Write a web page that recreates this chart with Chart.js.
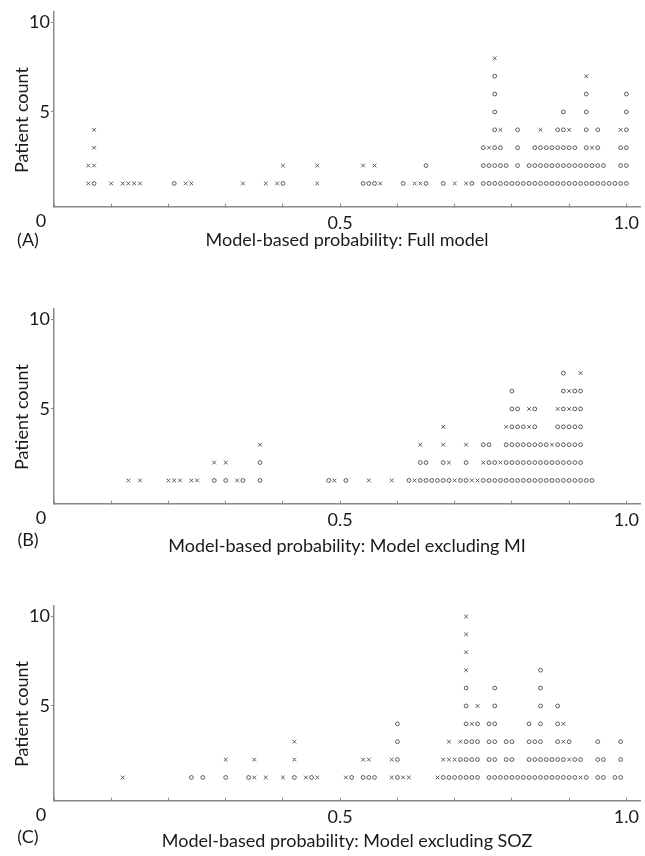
<!DOCTYPE html>
<html>
<head>
<meta charset="utf-8">
<script src="https://cdn.jsdelivr.net/npm/chart.js@4.4.1/dist/chart.umd.min.js"></script>
<style>
  body { margin: 0; background: #fff; font-family: Lato, sans-serif; color: #1a1a1a; }
  #page { position: relative; width: 645px; height: 856px; overflow: hidden; }
  .panel { position: absolute; left: 0; width: 645px; height: 262px; }
  .panel canvas { position: absolute; left: 0; top: 0; }
  .txt { position: absolute; font-size: 18px; line-height: 1; white-space: nowrap; transform: translate(-50%, -50%); }
  .ytitle { transform: translate(-50%, -50%) rotate(-90deg); }
</style>
</head>
<body>
<div id="page"></div>
<script>
// bins of model-based probability; each stack lists patients bottom-up: o / x
const probA = [0.06, 0.07, 0.10, 0.12, 0.13, 0.14, 0.15, 0.21, 0.23, 0.24, 0.33, 0.37, 0.39, 0.40, 0.46,
  0.54, 0.55, 0.56, 0.57, 0.61, 0.63, 0.64, 0.65, 0.68, 0.70, 0.72, 0.73, 0.75, 0.76, 0.77, 0.78, 0.79,
  0.80, 0.81, 0.82, 0.83, 0.84, 0.85, 0.86, 0.87, 0.88, 0.89, 0.90, 0.91, 0.92, 0.93, 0.94, 0.95, 0.96,
  0.97, 0.98, 0.99, 1.00];
const stackA = ["xx", "oxxx", "x", "x", "x", "x", "x", "o", "x", "x", "x", "x", "x", "ox", "xx",
  "ox", "o", "ox", "x", "o", "x", "x", "oo", "o", "x", "x", "o", "ooo", "oox", "ooooooox", "ooox", "oo",
  "o", "oooo", "o", "oo", "ooo", "ooox", "ooo", "ooo", "oooo", "ooooo", "ooox", "ooo", "oo", "oooooox", "oox", "oooo", "oo",
  "o", "o", "ooox", "oooooo"];

const probB = [0.13, 0.15, 0.20, 0.21, 0.22, 0.24, 0.25, 0.28, 0.30, 0.32, 0.33, 0.36, 0.48, 0.49, 0.51,
  0.55, 0.59, 0.62, 0.63, 0.64, 0.65, 0.66, 0.67, 0.68, 0.69, 0.70, 0.71, 0.72, 0.73, 0.74, 0.75, 0.76,
  0.77, 0.78, 0.79, 0.80, 0.81, 0.82, 0.83, 0.84, 0.85, 0.86, 0.87, 0.88, 0.89, 0.90, 0.91, 0.92, 0.93, 0.94];
const stackB = ["x", "x", "x", "x", "x", "x", "x", "ox", "ox", "x", "o", "oox", "o", "x", "o",
  "x", "x", "o", "x", "oox", "oo", "o", "o", "ooxx", "ox", "x", "o", "oox", "x", "x", "oxo", "ooo",
  "oo", "ox", "ooox", "oooooo", "ooooo", "oooo", "oooxx", "ooooo", "ooo", "ooo", "oox", "oooox", "ooooooo", "ooooxx", "oooooo", "oooooox", "o", "o"];

const probC = [0.12, 0.24, 0.26, 0.30, 0.34, 0.35, 0.37, 0.40, 0.42, 0.44, 0.45, 0.46, 0.51, 0.52, 0.54,
  0.55, 0.56, 0.59, 0.60, 0.61, 0.62, 0.67, 0.68, 0.69, 0.70, 0.71, 0.72, 0.73, 0.74, 0.76, 0.77, 0.78,
  0.79, 0.80, 0.81, 0.82, 0.83, 0.84, 0.85, 0.86, 0.87, 0.88, 0.89, 0.90, 0.91, 0.92, 0.93, 0.95, 0.96,
  0.98, 0.99];
const stackC = ["x", "o", "o", "ox", "o", "xx", "x", "x", "oxx", "x", "o", "x", "x", "o", "ox",
  "ox", "o", "xx", "oooo", "x", "x", "x", "ox", "oxx", "ox", "oox", "ooooooxxxx", "ooox", "oooox", "oooo", "oooooo", "o",
  "ooo", "ooo", "o", "o", "oooo", "ooo", "ooooooo", "oo", "oo", "ooooo", "ooxx", "oxo", "oo", "xo", "o", "ooo", "oo",
  "o", "ooo"];

const xLabelTicks = [0.5, 1.0];
const yTicks = [5, 10];
const panelTitles = ["Model-based probability: Full model",
  "Model-based probability: Model excluding MI",
  "Model-based probability: Model excluding SOZ"];
const panelTags = ["(A)", "(B)", "(C)"];

const panels = [
  { probs: probA, stacks: stackA, top: 0, titlePad: 11.5 },
  { probs: probB, stacks: stackB, top: 297, titlePad: 2 },
  { probs: probC, stacks: stackC, top: 594, titlePad: 4.5 },
];

Chart.defaults.font.family = "Lato, sans-serif";
Chart.defaults.font.size = 18;
Chart.defaults.color = "#1a1a1a";

const AXIS = "#8a8a8a";
const MARK = "#4a4a4a";

function points(probs, stacks, mark) {
  const pts = [];
  probs.forEach((p, i) => {
    [...stacks[i]].forEach((m, j) => {
      if (m === mark) pts.push({ x: p, y: j + 1 });
    });
  });
  return pts;
}

const page = document.getElementById("page");

panels.forEach((pn, k) => {
  const box = document.createElement("div");
  box.className = "panel";
  box.style.top = pn.top + "px";
  box.innerHTML =
    '<canvas width="645" height="262"></canvas>' +
    '<div class="txt ytitle" style="left:21px;top:120px">Patient count</div>' +
    '<div class="txt" style="left:41px;top:220px">0</div>' +
    '<div class="txt" style="left:28px;top:' + (k === 0 ? 239 : 242) + 'px">' + panelTags[k] + '</div>';
  page.appendChild(box);

  new Chart(box.querySelector("canvas"), {
    type: "scatter",
    data: {
      datasets: [
        {
          data: points(pn.probs, pn.stacks, "o"),
          pointStyle: "circle",
          pointRadius: 1.9,
          pointBorderWidth: 0.9,
          pointBorderColor: MARK,
          pointBackgroundColor: "rgba(0,0,0,0)",
        },
        {
          data: points(pn.probs, pn.stacks, "x"),
          pointStyle: "crossRot",
          pointRadius: 2.6,
          pointBorderWidth: 0.9,
          pointBorderColor: MARK,
        },
      ],
    },
    options: {
      responsive: false,
      animation: false,
      events: [],
      layout: { padding: { top: 10, right: 2, left: 0, bottom: 0 } },
      plugins: { legend: { display: false }, tooltip: { enabled: false } },
      scales: {
        x: {
          type: "linear",
          min: 0,
          max: 1.024,
          afterFit: (s) => {
            s.height = 55.3;
            s.paddingLeft = 0;
            s.paddingRight = 0;
          },
          border: { color: AXIS, width: 1.5 },
          grid: { drawOnChartArea: false, tickLength: -3, color: AXIS },
          ticks: {
            stepSize: 0.1,
            includeBounds: false,
            autoSkip: false,
            maxRotation: 0,
            padding: 9,
            callback: (v) => {
              const hit = xLabelTicks.find((t) => Math.abs(t - v) < 1e-6);
              return hit === undefined ? "" : hit.toFixed(1);
            },
          },
          title: {
            display: true,
            text: panelTitles[k],
            padding: { top: 0, bottom: pn.titlePad },
          },
        },
        y: {
          min: -0.3,
          max: 10.6,
          afterFit: (s) => { s.width = 54; },
          afterBuildTicks: (s) => { s.ticks = yTicks.map((v) => ({ value: v })); },
          border: { color: AXIS, width: 1.5 },
          grid: { drawOnChartArea: false, tickLength: 3, color: AXIS },
          ticks: { padding: 1 },
        },
      },
    },
  });
});
</script>
</body>
</html>
